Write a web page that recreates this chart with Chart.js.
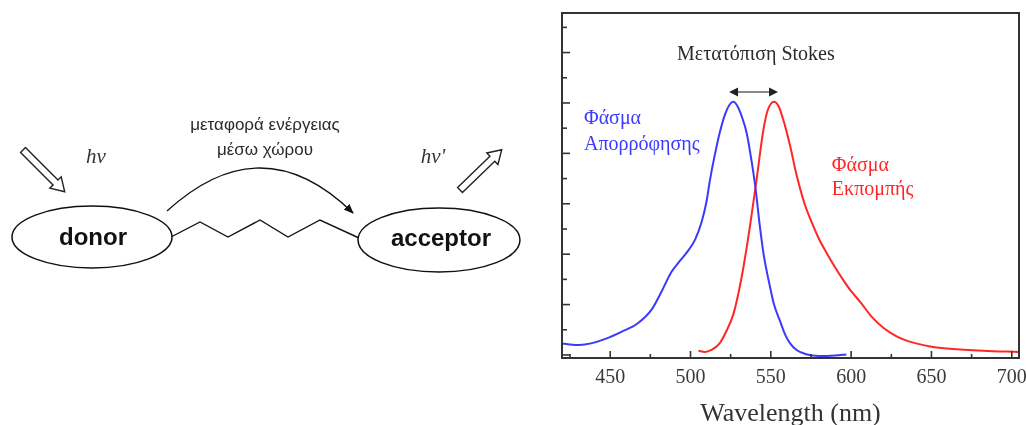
<!DOCTYPE html>
<html>
<head>
<meta charset="utf-8">
<script src="https://cdn.jsdelivr.net/npm/chart.js@4.4.0/dist/chart.umd.min.js"></script>
<style>
  html, body { margin: 0; padding: 0; background: #fff; }
  #wrap { position: relative; width: 1026px; height: 425px; overflow: hidden; background: #fff; }
  #spectra, #diagram { position: absolute; left: 0; top: 0; }
  #diagram text { font-family: "Liberation Sans", Arial, sans-serif; }
  #diagram .hv { font-family: "Liberation Serif", serif; font-style: italic; font-size: 21px; fill: #333; }
  #diagram .mol { font-weight: bold; font-size: 24px; fill: #111; }
  #diagram .note { font-size: 17px; fill: #2a2a2a; }
</style>
</head>
<body>
<div id="wrap">
  <canvas id="spectra" width="1026" height="425"></canvas>
  <svg id="diagram" width="545" height="425" xmlns="http://www.w3.org/2000/svg">
    <defs>
      <marker id="head" markerWidth="10" markerHeight="8" refX="9" refY="4" orient="auto" markerUnits="userSpaceOnUse">
        <path d="M0,0 L10,4 L0,8 Z" fill="#111"/>
      </marker>
    </defs>
    <!-- incoming / outgoing photons -->
    <g transform="translate(23,150) rotate(45)">
      <path d="M0,-3.5 L46,-3.5 L46,-8 L59,0 L46,8 L46,3.5 L0,3.5 Z" fill="#fff" stroke="#222" stroke-width="1.4"/>
    </g>
    <g transform="translate(460,190) rotate(-44)">
      <path d="M0,-3.5 L45,-3.5 L45,-8 L58,0 L45,8 L45,3.5 L0,3.5 Z" fill="#fff" stroke="#222" stroke-width="1.4"/>
    </g>
    <text class="hv" x="96" y="158" text-anchor="middle" dominant-baseline="middle">hν</text>
    <text class="hv" x="433" y="158" text-anchor="middle" dominant-baseline="middle">hν'</text>

    <text class="note" x="265" y="126" text-anchor="middle" dominant-baseline="middle">μεταφορά ενέργειας</text>
    <text class="note" x="265" y="151" text-anchor="middle" dominant-baseline="middle">μέσω χώρου</text>
    <path d="M167,211 Q262,124 353,213" fill="none" stroke="#111" stroke-width="1.3" marker-end="url(#head)"/>

    <polyline points="171,237 200,222 228,237 260,220 288,237 320,220 359,238" fill="none" stroke="#111" stroke-width="1.4"/>

    <ellipse cx="92" cy="237" rx="80" ry="31" fill="#fff" stroke="#111" stroke-width="1.5"/>
    <text class="mol" x="93" y="239" text-anchor="middle" dominant-baseline="middle">donor</text>
    <ellipse cx="439" cy="240" rx="81" ry="32" fill="#fff" stroke="#111" stroke-width="1.5"/>
    <text class="mol" x="441" y="240" text-anchor="middle" dominant-baseline="middle">acceptor</text>
  </svg>
</div>
<script>
// absorption spectrum (blue)
const absWavelength = [420, 425, 431, 438, 447, 457, 467, 476, 482, 488, 494, 499, 503, 507, 510, 512, 515, 518.3, 521.5, 524.5, 526.6, 529, 532, 535, 538, 540.5, 543, 545.5, 549.5, 552, 555.7, 559, 562, 566, 572, 580, 590, 597];
const absValues     = [0.046, 0.042, 0.040, 0.046, 0.064, 0.092, 0.125, 0.182, 0.252, 0.328, 0.378, 0.418, 0.460, 0.530, 0.610, 0.690, 0.790, 0.885, 0.955, 0.995, 1.005, 0.990, 0.945, 0.880, 0.770, 0.660, 0.520, 0.400, 0.270, 0.200, 0.135, 0.080, 0.046, 0.020, 0.003, -0.004, -0.002, 0.002];

// emission spectrum (red)
const emWavelength = [505, 509, 513, 518, 522, 526.6, 530, 533, 537, 541, 545.3, 548, 552, 555, 558.8, 562, 566, 571, 576.4, 580, 585, 590, 595, 600, 605.5, 613, 620, 628, 634, 641, 650, 661.5, 682, 704.5];
const emValues     = [0.017, 0.012, 0.020, 0.045, 0.090, 0.160, 0.250, 0.350, 0.510, 0.690, 0.890, 0.970, 1.005, 0.985, 0.910, 0.830, 0.715, 0.600, 0.512, 0.460, 0.402, 0.348, 0.298, 0.253, 0.212, 0.150, 0.108, 0.075, 0.058, 0.045, 0.033, 0.025, 0.017, 0.012];

const xMin = 420, xMax = 704.5, xStep = 50;
const yMin = -0.012, yMax = 1.357, yStep = 0.1;

const serif = '"Liberation Serif", "Times New Roman", serif';
const blue = 'rgb(58, 58, 255)';
const red = 'rgb(255, 38, 38)';

const toPoints = (xs, ys) => xs.map((x, i) => ({ x: x, y: ys[i] }));

function line(ctx, x1, y1, x2, y2) {
  ctx.beginPath();
  ctx.moveTo(x1, y1);
  ctx.lineTo(x2, y2);
  ctx.stroke();
}

const framePlugin = {
  id: 'frame',
  afterDatasetsDraw(chart) {
    const { ctx, chartArea: a, scales: { x, y } } = chart;
    ctx.save();
    ctx.strokeStyle = '#333';
    ctx.lineWidth = 2;
    ctx.strokeRect(a.left, a.top, a.right - a.left, a.bottom - a.top);

    // inward ticks on the bottom axis
    ctx.lineWidth = 1.6;
    const minors = new Set();
    x.ticks.forEach(t => {
      const px = x.getPixelForValue(t.value);
      line(ctx, px, a.bottom, px, a.bottom - 7);
      [t.value - xStep / 2, t.value + xStep / 2].forEach(v => {
        if (v > xMin && v < xMax) minors.add(v);
      });
    });
    minors.forEach(v => {
      const px = x.getPixelForValue(v);
      line(ctx, px, a.bottom, px, a.bottom - 4);
    });

    // inward ticks on the left axis
    y.ticks.forEach(t => {
      const py = y.getPixelForValue(t.value);
      const major = Math.round(t.value * 10) % 2 === 0;
      line(ctx, a.left, py, a.left + (major ? 8 : 5), py);
    });
    ctx.restore();
  },
  afterDraw(chart) {
    const { ctx, scales: { x, y } } = chart;
    ctx.save();
    ctx.font = '20px ' + serif;
    ctx.textBaseline = 'middle';

    ctx.fillStyle = '#2b2b2b';
    ctx.textAlign = 'center';
    ctx.fillText('Μετατόπιση Stokes', x.getPixelForValue(540.7), y.getPixelForValue(1.19));

    // Stokes shift arrow between the two maxima
    const ay = y.getPixelForValue(1.044);
    const ax1 = x.getPixelForValue(524), ax2 = x.getPixelForValue(554.5);
    ctx.strokeStyle = '#8a8a8a';
    ctx.lineWidth = 2;
    line(ctx, ax1 + 6, ay, ax2 - 6, ay);
    ctx.fillStyle = '#222';
    ctx.beginPath();
    ctx.moveTo(ax1, ay); ctx.lineTo(ax1 + 9, ay - 4.5); ctx.lineTo(ax1 + 9, ay + 4.5); ctx.closePath();
    ctx.moveTo(ax2, ay); ctx.lineTo(ax2 - 9, ay - 4.5); ctx.lineTo(ax2 - 9, ay + 4.5); ctx.closePath();
    ctx.fill();

    ctx.textAlign = 'left';
    ctx.fillStyle = blue;
    ctx.fillText('Φάσμα', x.getPixelForValue(433.7), y.getPixelForValue(0.937));
    ctx.fillText('Απορρόφησης', x.getPixelForValue(433.7), y.getPixelForValue(0.833));

    ctx.fillStyle = red;
    ctx.fillText('Φάσμα', x.getPixelForValue(588), y.getPixelForValue(0.75));
    ctx.fillText('Εκπομπής', x.getPixelForValue(588), y.getPixelForValue(0.655));
    ctx.restore();
  }
};

new Chart(document.getElementById('spectra'), {
  type: 'line',
  data: {
    datasets: [
      {
        label: 'Φάσμα Απορρόφησης',
        data: toPoints(absWavelength, absValues),
        borderColor: blue,
        borderWidth: 2,
        pointRadius: 0,
        fill: false,
        cubicInterpolationMode: 'monotone'
      },
      {
        label: 'Φάσμα Εκπομπής',
        data: toPoints(emWavelength, emValues),
        borderColor: red,
        borderWidth: 2,
        pointRadius: 0,
        fill: false,
        cubicInterpolationMode: 'monotone'
      }
    ]
  },
  options: {
    responsive: false,
    animation: false,
    events: [],
    layout: {
      padding: { left: 562, top: 13, right: 7, bottom: 0 }
    },
    plugins: {
      legend: { display: false },
      tooltip: { enabled: false }
    },
    scales: {
      x: {
        type: 'linear',
        min: xMin,
        max: xMax,
        // the last label may run past the frame, as in the original
        afterFit: s => { s.height = 67; s.paddingLeft = 0; s.paddingRight = 0; },
        grid: { display: false, drawTicks: false },
        border: { display: false },
        ticks: {
          stepSize: xStep,
          includeBounds: false,
          maxRotation: 0,
          padding: 8,
          color: '#3a3a3a',
          font: { family: serif, size: 20 }
        },
        title: {
          display: true,
          text: 'Wavelength (nm)',
          color: '#333',
          padding: 0,
          font: { family: serif, size: 26, lineHeight: 0.8 }
        }
      },
      y: {
        type: 'linear',
        min: yMin,
        max: yMax,
        afterFit: s => { s.width = 0; },
        grid: { display: false, drawTicks: false },
        border: { display: false },
        ticks: { display: false, stepSize: yStep, includeBounds: false }
      }
    }
  },
  plugins: [framePlugin]
});
</script>
</body>
</html>
